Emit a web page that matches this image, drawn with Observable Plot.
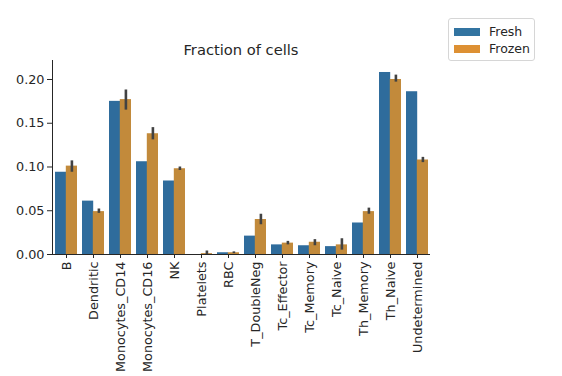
<!DOCTYPE html>
<html>
<head>
<meta charset="utf-8">
<script src="https://cdn.jsdelivr.net/npm/d3@7"></script>
<script src="https://cdn.jsdelivr.net/npm/@observablehq/plot@0.6"></script>
<style>
  html, body { margin: 0; padding: 0; background: #fff; overflow: hidden; }
  #wrap { position: relative; width: 562px; height: 376px; overflow: hidden; font-family: "DejaVu Sans", sans-serif; color: #262626; }
  #chart { position: absolute; left: 0; top: 0; }
  #title { position: absolute; left: 52px; width: 378px; top: 41px; text-align: center; font-size: 14.7px; line-height: 17px; }
  #xlabel { position: absolute; left: 52px; width: 378px; top: 373px; text-align: center; font-size: 12.8px; line-height: 15px; }
  #legend { position: absolute; left: 448px; top: 18px; width: 87px; height: 43px; border: 1px solid #d6d6d6; border-radius: 3px; box-sizing: border-box; background: #fff; }
  .item { position: absolute; left: 5px; font-size: 12.5px; line-height: 15px; }
  .sw { position: absolute; left: 0; top: 4px; width: 26px; height: 8px; }
  .lbl { position: absolute; left: 35px; top: 0; white-space: nowrap; }
</style>
</head>
<body>
<div id="wrap">
  <div id="chart"></div>
  <div id="title">Fraction of cells</div>
  <div id="xlabel">identity</div>
  <div id="legend"></div>
</div>
<script>
const categories = ["B","Dendritic","Monocytes_CD14","Monocytes_CD16","NK","Platelets","RBC","T_DoubleNeg","Tc_Effector","Tc_Memory","Tc_Naive","Th_Memory","Th_Naive","Undetermined"];
const conditions = ["Fresh","Frozen"];
const fresh    = [0.094,0.061,0.175,0.106,0.084,0.000,0.002,0.021,0.011,0.010,0.009,0.036,0.208,0.186];
const frozen   = [0.101,0.049,0.177,0.138,0.098,0.001,0.002,0.040,0.013,0.014,0.011,0.049,0.200,0.108];
const frozenLo = [0.094,0.047,0.165,0.131,0.096,0.000,0.001,0.034,0.011,0.010,0.005,0.046,0.197,0.105];
const frozenHi = [0.107,0.052,0.188,0.145,0.100,0.004,0.003,0.046,0.015,0.017,0.018,0.053,0.205,0.111];
const yTicks = [0, 0.05, 0.10, 0.15, 0.20];

const barColors = {Fresh: "#2f6c9c", Frozen: "#c28a3b"};
const legendColors = {Fresh: "#3274a1", Frozen: "#dd9033"};

const freshRows = categories.map((c, i) => ({cat: c, v: fresh[i]}));
const frozenRows = categories.map((c, i) => ({cat: c, v: frozen[i]}));
const errRows = categories.map((c, i) => ({cat: c, lo: frozenLo[i], hi: frozenHi[i]}));

const chart = Plot.plot({
  width: 562,
  height: 376,
  marginLeft: 52,
  marginRight: 132,
  marginTop: 60,
  marginBottom: 122,
  style: {fontFamily: "DejaVu Sans, sans-serif", fontSize: "12.8px", color: "#262626", background: "transparent", overflow: "visible"},
  x: {type: "band", domain: categories, paddingInner: 0.2, paddingOuter: 0.1},
  y: {domain: [0, 0.2217]},
  marks: [
    Plot.barY(freshRows, {x: "cat", y: "v", fill: barColors.Fresh, insetRight: 10.8}),
    Plot.barY(frozenRows, {x: "cat", y: "v", fill: barColors.Frozen, insetLeft: 10.8}),
    Plot.ruleX(errRows, {x: "cat", y1: "lo", y2: "hi", dx: 5.4, stroke: "#424242", strokeWidth: 2.6}),
    Plot.ruleY([0], {stroke: "#262626", strokeWidth: 1}),
    Plot.frame({anchor: "left", stroke: "#262626", strokeWidth: 1}),
    Plot.axisX({tickRotate: -90, tickSize: 4, tickPadding: 3, label: null, fontSize: 12.8, stroke: "#262626"}),
    Plot.axisY({ticks: yTicks, tickFormat: d3.format(".2f"), tickSize: 5, tickPadding: 3, label: null, fontSize: 12.8, stroke: "#262626"})
  ]
});
document.getElementById("chart").appendChild(chart);

const legend = document.getElementById("legend");
conditions.forEach((k, i) => {
  const it = document.createElement("div");
  it.className = "item";
  it.style.top = (5 + i * 17) + "px";
  it.style.width = "78px";
  it.style.height = "15px";
  const sw = document.createElement("div");
  sw.className = "sw";
  sw.style.background = legendColors[k];
  const lb = document.createElement("div");
  lb.className = "lbl";
  lb.textContent = k;
  it.appendChild(sw); it.appendChild(lb);
  legend.appendChild(it);
});
</script>
</body>
</html>
